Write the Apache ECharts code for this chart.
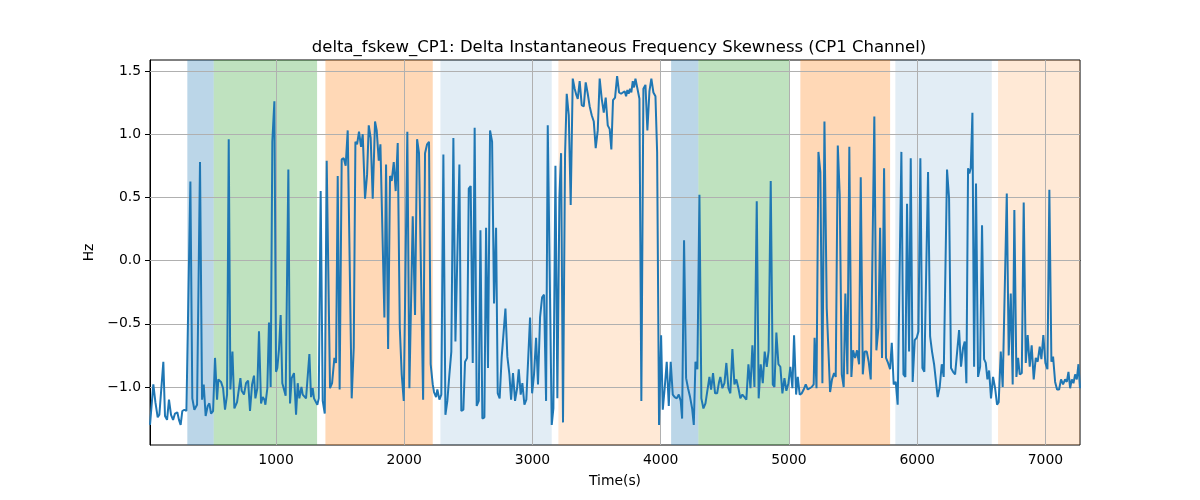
<!DOCTYPE html>
<html>
<head>
<meta charset="utf-8">
<script src="https://cdn.jsdelivr.net/npm/echarts@6/dist/echarts.min.js"></script>
<style>html,body{margin:0;padding:0;background:#fff}#c{width:1200px;height:500px}</style>
</head>
<body>
<div id="c"></div>
<script>
const titleText = 'delta_fskew_CP1: Delta Instantaneous Frequency Skewness (CP1 Channel)';
const xName = 'Time(s)';
const yName = 'Hz';
const xTicks = [1000, 2000, 3000, 4000, 5000, 6000, 7000];
const yTicks = [-1.0, -0.5, 0.0, 0.5, 1.0, 1.5];
const xMin = 17, xMax = 7270, yMin = -1.459, yMax = 1.587;

const times = [
17,43,59,77,90,103,121,134,150,165,181,197,212,230,243,256,269,285,301,316,
332,347,363,384,407,423,436,451,467,480,493,509,524,540,550,571,587,602,618,631,
644,660,675,696,722,732,750,766,782,797,813,828,839,854,867,883,896,909,917,932,
945,958,971,987,1000,1010,1023,1036,1049,1062,1075,1096,1109,1122,1140,1156,1169,1182,1198,1208,
1221,1234,1247,1260,1273,1286,1296,1309,1322,1333,1348,1364,1380,1395,1421,1437,1455,1468,1481,1496,
1512,1528,1543,1559,1590,1606,1619,1632,1647,1663,1676,1694,1710,1723,1738,1754,1772,1785,1801,1814,
1829,1845,1858,1874,1889,1902,1918,1933,1949,1965,1980,1996,2024,2040,2066,2084,2100,2115,2147,2162,
2178,2193,2206,2222,2232,2248,2258,2274,2289,2305,2321,2336,2352,2367,2383,2399,2430,2445,2461,2474,
2490,2503,2518,2534,2549,2565,2581,2594,2609,2625,2638,2653,2669,2685,2700,2716,2729,2744,2760,2773,
2789,2804,2820,2833,2848,2864,2880,2893,2908,2921,2937,2952,2965,2981,2997,3012,3028,3043,3059,3075,
3090,3106,3119,3150,3163,3179,3194,3210,3223,3238,3254,3267,3283,3298,3314,3329,3342,3353,3368,3384,
3400,3415,3431,3446,3462,3478,3493,3509,3524,3540,3556,3571,3587,3602,3615,3628,3644,3660,3675,3691,
3706,3719,3730,3740,3750,3761,3771,3782,3792,3803,3818,3834,3849,3865,3881,3896,3912,3927,3943,3959,
3972,3987,4003,4016,4031,4047,4063,4078,4094,4109,4125,4141,4156,4167,4182,4198,4213,4229,4245,4258,
4271,4286,4302,4317,4333,4349,4364,4380,4393,4408,4424,4440,4455,4465,4481,4497,4512,4528,4543,4559,
4575,4590,4606,4621,4637,4653,4668,4684,4700,4715,4731,4749,4764,4780,4796,4811,4827,4842,4858,4874,
4887,4902,4918,4933,4949,4965,4980,4996,5011,5027,5040,5056,5069,5084,5100,5115,5131,5147,5162,5178,
5193,5200,5215,5230,5245,5261,5277,5295,5321,5336,5352,5365,5381,5396,5412,5427,5440,5456,5471,5487,
5500,5516,5531,5547,5560,5576,5591,5607,5622,5638,5666,5682,5698,5711,5726,5742,5757,5773,5789,5802,
5817,5833,5848,5877,5893,5908,5921,5937,5950,5965,5981,5997,6010,6025,6041,6056,6085,6101,6116,6132,
6147,6160,6176,6192,6207,6233,6249,6264,6280,6296,6311,6327,6342,6358,6371,6384,6397,6407,6418,6431,
6444,6459,6475,6491,6506,6522,6535,6548,6561,6576,6592,6608,6623,6636,6652,6667,6699,6714,6730,6745,
6758,6774,6787,6800,6816,6831,6847,6862,6878,6893,6909,6925,6940,6956,6969,6984,7000,7016,7031,7047,
7060,7076,7091,7107,7122,7138,7154,7167,7180,7193,7206,7219,7232,7245,7258,7270
];
const values = [
-1.30,-0.98,-1.12,-1.24,-1.22,-1.21,-0.80,-1.23,-1.26,-1.10,-1.22,-1.26,-1.21,-1.20,-1.26,-1.30,-1.19,-1.18,-1.19,-1.18,
0.625,-1.09,-1.18,-1.14,0.78,-1.10,-0.98,-1.23,-1.15,-1.13,-1.21,-1.19,-0.77,-1.10,-0.94,-0.96,-1.01,-1.18,-1.06,0.96,
-1.02,-0.72,-1.17,-1.12,-0.93,-1.03,-1.06,-0.97,-0.95,-1.19,-0.98,-0.91,-1.09,-1.01,-0.56,-1.13,-1.08,-1.10,-1.14,-1.01,
-0.49,-1.00,0.94,1.26,-0.88,-0.85,-0.70,-0.43,-0.97,-0.98,-1.07,0.72,-1.13,-0.93,-0.89,-1.22,-0.97,-1.09,-1.00,-1.06,
-1.06,-1.09,-1.08,-0.74,-1.08,-1.01,-1.09,-1.08,-1.14,-1.09,0.55,-1.11,-1.21,0.79,-1.01,-0.97,-0.77,-0.81,0.67,-1.02,
0.80,0.81,0.75,1.03,-1.09,-0.69,0.94,0.92,1.02,0.90,1.00,0.49,0.68,1.07,0.97,0.49,1.10,1.03,0.79,0.92,
0.93,-0.45,0.76,-0.70,0.67,0.63,0.78,0.55,0.93,-0.53,-0.90,-1.11,1.02,-1.01,0.35,-0.43,0.96,0.85,-1.10,0.85,
0.92,0.94,-0.82,-0.98,-1.04,-1.08,-1.02,-1.10,-1.06,0.84,-1.22,-1.11,-0.90,-0.72,0.97,-0.64,0.76,-1.19,-1.18,-0.80,
-0.77,0.57,0.59,-0.81,1.05,-1.15,-1.11,0.24,-1.25,-1.24,0.26,-0.85,1.03,0.94,-0.34,0.26,-1.05,-1.09,-0.76,-0.75,
-0.38,-0.76,-0.90,-1.10,-0.89,-1.11,-1.01,-0.86,-1.06,-0.97,-1.14,-1.10,-1.09,-0.45,-1.05,-0.90,-0.61,-0.98,-0.45,-0.29,
-0.27,-1.11,1.07,-1.30,-1.17,0.75,-1.09,0.50,0.85,-1.28,0.84,1.32,1.15,0.44,1.44,1.36,1.31,1.28,1.42,1.23,
1.22,1.41,1.32,1.22,1.15,1.10,0.89,1.03,1.44,1.28,1.17,1.29,1.07,1.04,0.88,1.27,1.29,1.46,1.33,1.32,
1.33,1.34,1.30,1.35,1.32,1.36,1.33,1.42,1.37,1.44,1.44,1.28,-1.11,1.36,1.39,1.03,1.34,1.44,1.33,1.30,
0.86,-1.30,-0.59,-1.18,-1.01,-0.80,-1.15,-0.80,-1.06,-1.08,-1.09,-1.06,-1.11,-1.25,0.16,-0.93,-1.01,-1.08,-1.17,-1.30,
-0.80,-0.86,0.52,-1.09,-1.17,-1.13,-1.14,-0.92,-1.02,-0.89,-1.05,-1.05,-0.96,-0.92,-1.01,-0.97,-0.81,-1.01,-1.05,-0.70,
-0.98,-0.94,-1.01,-1.09,-1.06,-1.08,-1.10,-0.82,-1.01,-0.67,-1.00,0.47,-1.09,-0.82,-0.97,-0.72,-0.84,-0.71,0.63,-0.98,
-1.00,-0.57,-0.82,-0.84,-1.05,-0.93,-1.03,-0.97,-0.84,-1.01,-0.59,-1.06,-0.92,-1.06,-1.05,-1.02,-0.98,-1.02,-1.03,-1.00,
-0.98,-0.61,-1.01,0.86,0.70,-0.97,1.10,-0.38,-1.04,-0.94,-0.89,-0.92,0.91,0.52,-0.90,-1.00,-0.26,-0.90,0.90,-0.92,
-0.71,-0.77,-0.71,-0.82,0.66,-0.90,-0.72,-0.72,-0.80,-0.94,1.14,-0.71,-0.53,0.26,-0.77,0.73,-0.77,-0.81,-0.86,-0.65,
-0.98,-0.96,-1.14,0.86,-0.90,-0.92,0.45,-0.72,0.81,-0.96,-0.63,-0.61,-0.56,0.81,-0.85,-0.88,0.70,-0.60,-0.72,-0.82,
-0.82,-1.08,-1.00,-0.82,-0.92,0.72,0.49,-0.85,-0.88,-0.90,-0.90,-0.55,-0.84,-0.69,-0.64,-0.97,0.73,0.69,0.73,1.17,
-0.84,0.61,-0.92,-0.84,0.28,-0.78,-0.81,-0.94,-0.87,-1.09,-0.92,-1.01,-1.14,-1.12,-0.72,-1.00,0.53,-0.75,-0.26,-0.98,
0.40,-0.92,-0.77,-0.90,-0.89,0.46,-0.81,-0.59,-0.84,-0.67,-0.94,-0.77,-0.80,-0.68,-0.78,-0.59,-0.81,-0.86,0.56,-0.80,
-0.76,-0.96,-1.02,-1.02,-0.94,-0.98,-0.94,-0.96,-0.88,-1.01,-0.94,-0.97,-0.90,-0.94,-0.82,-1.01
];

const bandStart = [308, 514, 1385, 2282, 3202, 4081, 4294, 5089, 5830, 6631];
const bandEnd   = [514, 1320, 2222, 3150, 3997, 4294, 5004, 5789, 6582, 7270];
const bandKind  = ['blue','green','orange','lightblue','lightorange','blue','green','orange','lightblue','lightorange'];

const kindColor = {
  blue: 'rgba(31,119,180,0.3)',
  green: 'rgba(44,160,44,0.3)',
  orange: 'rgba(255,127,14,0.3)',
  lightblue: 'rgba(31,119,180,0.13)',
  lightorange: 'rgba(255,127,14,0.17)'
};

const lineData = times.map((t, i) => [t, values[i]]);
const FONT = 'DejaVu Sans';
const minus = v => String(v).replace('-', '\u2212');

const areaData = bandStart.map((s, i) => [
  { xAxis: s, itemStyle: { color: kindColor[bandKind[i]] } },
  { xAxis: bandEnd[i] }
]);
const gridLines = xTicks.map(v => ({ xAxis: v })).concat(yTicks.map(v => ({ yAxis: v })));

const chart = echarts.init(document.getElementById('c'), null, { renderer: 'canvas' });
chart.setOption({
  animation: false,
  backgroundColor: '#fff',
  title: {
    text: titleText,
    left: 614, top: 34, textAlign: 'center',
    textStyle: { fontFamily: FONT, fontSize: 16.5, fontWeight: 'normal', color: '#000' }
  },
  grid: { left: 150, top: 60, width: 930, height: 385, show: true, borderColor: '#000', borderWidth: 1, backgroundColor: 'transparent' },
  xAxis: {
    type: 'value', min: xMin, max: xMax,
    name: xName, nameLocation: 'middle', nameGap: 29,
    nameTextStyle: { fontFamily: FONT, fontSize: 13.9, color: '#000' },
    axisLine: { show: true, lineStyle: { color: '#000', width: 1 } },
    axisTick: { show: true, length: 5, lineStyle: { color: '#000' }, customValues: xTicks },
    axisLabel: { fontFamily: FONT, fontSize: 13.9, color: '#000', margin: 8, customValues: xTicks, formatter: v => String(v) },
    splitLine: { show: false }
  },
  yAxis: {
    type: 'value', min: yMin, max: yMax,
    name: yName, nameLocation: 'middle', nameGap: 46, nameRotate: 90,
    nameTextStyle: { fontFamily: FONT, fontSize: 13.9, color: '#000' },
    axisLine: { show: true, lineStyle: { color: '#000', width: 1 } },
    axisTick: { show: true, length: 5, lineStyle: { color: '#000' }, customValues: yTicks },
    axisLabel: { fontFamily: FONT, fontSize: 13.9, color: '#000', margin: 9, customValues: yTicks, formatter: v => minus(Number(v).toFixed(1)) },
    splitLine: { show: false }
  },
  series: [
    {
      type: 'line', data: [], silent: true, z: 1,
      markArea: { silent: true, z: 1, data: areaData }
    },
    {
      type: 'line', data: [], silent: true, z: 1,
      markLine: {
        silent: true, z: 1.5, symbol: ['none', 'none'], animation: false,
        label: { show: false },
        lineStyle: { color: '#b0b0b0', width: 1, type: 'solid' },
        data: gridLines
      }
    },
    {
      type: 'line', data: lineData, z: 3, showSymbol: false, symbol: 'none',
      lineStyle: { color: '#1f77b4', width: 2 }, silent: true
    }
  ]
});
</script>
</body>
</html>
